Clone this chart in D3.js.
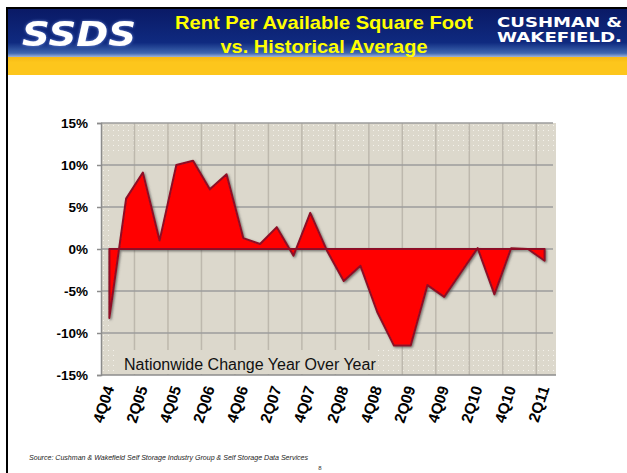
<!DOCTYPE html>
<html>
<head>
<meta charset="utf-8">
<script src="https://cdn.jsdelivr.net/npm/d3@7"></script>
<style>
  body { margin: 0; background: #fff; }
  svg { display: block; font-family: "Liberation Sans", Arial, sans-serif; }
</style>
</head>
<body>
<svg width="627" height="473"></svg>
<script>
// quarters shown on the x axis (every other one gets a label)
var quarters = ['4Q04', '1Q05', '2Q05', '3Q05', '4Q05', '1Q06', '2Q06', '3Q06', '4Q06',
  '1Q07', '2Q07', '3Q07', '4Q07', '1Q08', '2Q08', '3Q08', '4Q08', '1Q09', '2Q09',
  '3Q09', '4Q09', '1Q10', '2Q10', '3Q10', '4Q10', '1Q11', '2Q11'];
// change vs historical average, percent
var values = [-8.2, 6.0, 9.1, 1.0, 10.0, 10.5, 7.1, 8.9, 1.3,
  0.6, 2.6, -0.8, 4.3, -0.2, -3.8, -2.0, -7.5, -11.5, -11.5,
  -4.3, -5.7, -2.8, 0.1, -5.4, 0.1, 0.0, -1.4];
var yTicks = [-15, -10, -5, 0, 5, 10, 15];

var svg = d3.select('svg');
var defs = svg.append('defs');

// header
var hg = defs.append('linearGradient').attr('id', 'hdr').attr('x1', 0).attr('y1', 0).attr('x2', 0).attr('y2', 1);
hg.append('stop').attr('offset', '0%').attr('stop-color', '#0a1a66');
hg.append('stop').attr('offset', '70%').attr('stop-color', '#0f2a80');
hg.append('stop').attr('offset', '92%').attr('stop-color', '#3f67b0');
hg.append('stop').attr('offset', '100%').attr('stop-color', '#9fb4d8');

var yg = defs.append('linearGradient').attr('id', 'yel').attr('x1', 0).attr('y1', 0).attr('x2', 0).attr('y2', 1);
yg.append('stop').attr('offset', '0%').attr('stop-color', '#f6b913');
yg.append('stop').attr('offset', '30%').attr('stop-color', '#fdc61c');
yg.append('stop').attr('offset', '100%').attr('stop-color', '#fdc61c');

svg.append('rect').attr('x', 6).attr('y', 7).attr('width', 621).attr('height', 2).attr('fill', '#000');
svg.append('rect').attr('x', 6).attr('y', 7).attr('width', 2).attr('height', 466).attr('fill', '#000');
svg.append('rect').attr('x', 8).attr('y', 9).attr('width', 619).attr('height', 48).attr('fill', 'url(#hdr)');
svg.append('rect').attr('x', 8).attr('y', 57).attr('width', 619).attr('height', 18).attr('fill', 'url(#yel)');

var glow = defs.append('filter').attr('id', 'glow').attr('x', '-10%').attr('y', '-20%').attr('width', '120%').attr('height', '140%');
glow.append('feGaussianBlur').attr('in', 'SourceAlpha').attr('stdDeviation', 1.5).attr('result', 'b');
glow.append('feFlood').attr('flood-color', '#8fb0ff').attr('flood-opacity', 0.7);
glow.append('feComposite').attr('in2', 'b').attr('operator', 'in').attr('result', 'g');
var gm = glow.append('feMerge');
gm.append('feMergeNode').attr('in', 'g');
gm.append('feMergeNode').attr('in', 'SourceGraphic');

svg.append('text').attr('x', 22).attr('y', 46)
  .attr('textLength', 114).attr('lengthAdjust', 'spacingAndGlyphs')
  .style('font-family', '"DejaVu Sans", sans-serif').style('font-weight', 'bold').style('font-style', 'italic')
  .style('font-size', '33px').attr('fill', '#fff').attr('filter', 'url(#glow)')
  .text('SSDS');

svg.append('text').attr('x', 324).attr('y', 29).attr('text-anchor', 'middle')
  .attr('textLength', 298).attr('lengthAdjust', 'spacingAndGlyphs')
  .style('font-weight', 'bold').style('font-size', '19px').attr('fill', '#ffff00')
  .text('Rent Per Available Square Foot');
svg.append('text').attr('x', 324).attr('y', 53).attr('text-anchor', 'middle')
  .attr('textLength', 207).attr('lengthAdjust', 'spacingAndGlyphs')
  .style('font-weight', 'bold').style('font-size', '19px').attr('fill', '#ffff00')
  .text('vs. Historical Average');

svg.append('text').attr('x', 497).attr('y', 27)
  .attr('textLength', 125).attr('lengthAdjust', 'spacingAndGlyphs')
  .style('font-family', '"DejaVu Sans", sans-serif').style('font-weight', 'bold')
  .style('font-size', '14px').attr('fill', '#fff').text('CUSHMAN &');
svg.append('text').attr('x', 497).attr('y', 42)
  .attr('textLength', 125).attr('lengthAdjust', 'spacingAndGlyphs')
  .style('font-family', '"DejaVu Sans", sans-serif').style('font-weight', 'bold')
  .style('font-size', '14px').attr('fill', '#fff').text('WAKEFIELD.');

// chart
var plotL = 101, plotR = 553, plotT = 123, plotB = 375;
var x = d3.scaleBand().domain(quarters).range([plotL, plotR]).padding(0);
var y = d3.scaleLinear().domain([-15, 15]).range([plotB, plotT]);
var cx = function(q) { return x(q) + x.bandwidth() / 2; };

var pat = defs.append('pattern').attr('id', 'dots').attr('patternUnits', 'userSpaceOnUse')
  .attr('x', plotL).attr('y', plotT).attr('width', 5).attr('height', 5);
pat.append('rect').attr('width', 5).attr('height', 5).attr('fill', '#dcd8cc');
pat.append('rect').attr('x', 2).attr('y', 2).attr('width', 1).attr('height', 1).attr('fill', '#f4f2ec');

svg.append('rect').attr('x', plotL).attr('y', plotT).attr('width', plotR - plotL + 3).attr('height', plotB - plotT)
  .attr('fill', 'url(#dots)');
svg.append('rect').attr('x', plotL + 8).attr('y', plotT + 32).attr('width', plotR - plotL - 6).attr('height', plotB - plotT - 58)
  .attr('fill', '#dcd8cc');

// vertical grid every two quarters
svg.append('g').selectAll('line')
  .data(quarters.filter(function(q, i) { return i > 0 && i % 2 === 0; }))
  .enter().append('line')
  .attr('x1', function(d) { return x(d); }).attr('x2', function(d) { return x(d); })
  .attr('y1', plotT).attr('y2', plotB)
  .attr('stroke', '#bdb8ad').attr('stroke-width', 1.5);

// horizontal grid
svg.append('g').selectAll('line')
  .data(yTicks.filter(function(d) { return d > -15; }))
  .enter().append('line')
  .attr('x1', plotL).attr('x2', plotR)
  .attr('y1', function(d) { return y(d); }).attr('y2', function(d) { return y(d); })
  .attr('stroke', '#9c9c9c').attr('stroke-width', 1.5);

var shadow = defs.append('filter').attr('id', 'shadow').attr('x', '-5%').attr('y', '-5%').attr('width', '110%').attr('height', '110%');
shadow.append('feDropShadow').attr('dx', 1.2).attr('dy', 1.2).attr('stdDeviation', 0.8)
  .attr('flood-color', '#444').attr('flood-opacity', 0.7);

var area = d3.area()
  .x(function(d, i) { return cx(quarters[i]); })
  .y0(y(0))
  .y1(function(d) { return y(d); });

svg.append('path').datum(values)
  .attr('d', area)
  .attr('fill', '#ff0000')
  .attr('stroke', '#8e1026').attr('stroke-width', 2).attr('stroke-linejoin', 'round')
  .attr('filter', 'url(#shadow)');

// label box
svg.append('rect').attr('x', 118).attr('y', 350).attr('width', 256).attr('height', 24).attr('fill', '#dcd8cc');
svg.append('text').attr('x', 124).attr('y', 370)
  .style('font-size', '16px').attr('fill', '#111')
  .text('Nationwide Change Year Over Year');

// axes
var yAxis = svg.append('g').attr('transform', 'translate(' + plotL + ',0)')
  .call(d3.axisLeft(y).tickValues(yTicks).tickFormat(function(d) { return d + '%'; }).tickSize(4).tickPadding(9));
yAxis.selectAll('path, line').attr('stroke', '#8c8c8c').attr('stroke-width', 1.5);
yAxis.selectAll('text').style('font-family', '"Liberation Sans", Arial, sans-serif')
  .style('font-size', '13.5px').style('font-weight', 'bold').attr('fill', '#000');

svg.append('line').attr('x1', plotL).attr('x2', plotR + 3).attr('y1', plotB).attr('y2', plotB)
  .attr('stroke', '#8c8c8c').attr('stroke-width', 1.5);

svg.append('g').selectAll('text')
  .data(quarters.filter(function(q, i) { return i % 2 === 0; }))
  .enter().append('text')
  .attr('transform', function(d) { return 'translate(' + (cx(d) + 5) + ',388) rotate(-72)'; })
  .attr('text-anchor', 'end')
  .style('font-size', '15.5px').style('font-weight', 'bold').attr('fill', '#000')
  .text(function(d) { return d; });

// footer
svg.append('text').attr('x', 29).attr('y', 460)
  .attr('textLength', 279).attr('lengthAdjust', 'spacingAndGlyphs')
  .style('font-size', '7px').style('font-style', 'italic').attr('fill', '#222')
  .text('Source: Cushman & Wakefield Self Storage Industry Group & Self Storage Data Services');
svg.append('text').attr('x', 320).attr('y', 470).attr('text-anchor', 'middle')
  .style('font-size', '6px').attr('fill', '#333').text('8');
</script>
</body>
</html>
